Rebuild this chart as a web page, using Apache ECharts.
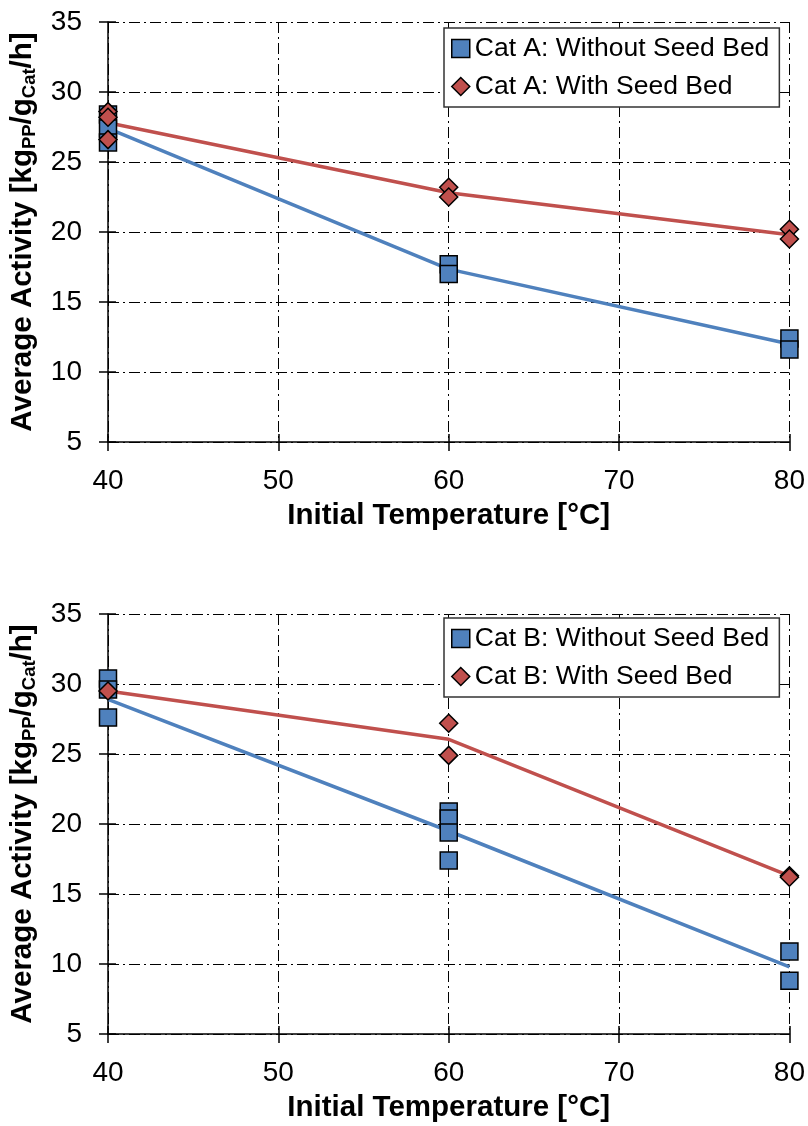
<!DOCTYPE html>
<html>
<head>
<meta charset="utf-8">
<script src="https://cdn.jsdelivr.net/npm/echarts@6/dist/echarts.min.js"></script>
<style>
html,body{margin:0;padding:0;background:#fff;}
#c{width:808px;height:1126px;}
</style>
</head>
<body>
<div id="c"></div>
<script>
// ---- data ----
const temps = [40, 60, 80];
const xTicks = [40, 50, 60, 70, 80];
const yTicks = [5, 10, 15, 20, 25, 30, 35];

const catA_without_pts = [[40,28.4],[40,27.4],[40,26.4],[60,17.7],[60,17.0],[80,12.4],[80,11.6]];
const catA_with_pts    = [[40,28.6],[40,28.2],[40,26.6],[60,23.2],[60,22.5],[80,20.2],[80,19.5]];
const catA_without_avg = [27.4, 17.35, 12.0];
const catA_with_avg    = [27.8, 22.8, 19.8];

const catB_without_pts = [[40,30.4],[40,29.6],[40,27.6],[60,20.9],[60,20.4],[60,19.4],[60,17.4],[80,10.9],[80,8.8]];
const catB_with_pts    = [[40,29.5],[60,27.2],[60,24.9],[80,16.3],[80,16.2]];
const catB_without_avg = [28.9, 19.5, 9.8];
const catB_with_avg    = [29.5, 26.05, 16.3];

const names = {
  aWo: 'Cat A: Without Seed Bed', aW: 'Cat A: With Seed Bed',
  bWo: 'Cat B: Without Seed Bed', bW: 'Cat B: With Seed Bed'
};

// ---- styles ----
const BLUE = '#4F81BD', RED = '#C0504D';
const FONT = '"Liberation Sans", Arial, sans-serif';
const dashDot = [11, 4, 2, 4];

function xAxes(gi) {
  return [{
    type: 'value', gridIndex: gi, min: 40, max: 80, interval: 10,
    name: 'Initial Temperature [°C]', nameLocation: 'middle', nameGap: 59,
    nameTextStyle: {fontFamily: FONT, fontSize: 29.5, fontWeight: 'bold', color: '#000'},
    axisLine: {show: true, onZero: false, lineStyle: {color: '#000', width: 1.5}},
    axisTick: {show: true, length: 9, lineStyle: {color: '#000', width: 1.5}},
    axisLabel: {fontFamily: FONT, fontSize: 28, color: '#000', margin: 25},
    splitLine: {show: true, lineStyle: {color: '#000', width: 1, type: dashDot}}
  }, {
    type: 'value', gridIndex: gi, min: 40, max: 80, interval: 10, position: 'bottom',
    axisLine: {show: false, onZero: false},
    axisTick: {show: true, inside: true, length: 8, lineStyle: {color: '#000', width: 1.5}},
    axisLabel: {show: false}, splitLine: {show: false}
  }];
}
function yAxes(gi) {
  return [{
    type: 'value', gridIndex: gi, min: 5, max: 35, interval: 5,
    name: 'Average Activity [kg{sub|PP}/g{sub|Cat}/h]', nameLocation: 'middle', nameGap: 69, nameRotate: 90,
    nameTextStyle: {fontFamily: FONT, fontSize: 29.5, fontWeight: 'bold', color: '#000',
      rich: {sub: {fontFamily: FONT, fontSize: 18.5, fontWeight: 'bold', color: '#000', verticalAlign: 'bottom', padding: [13,0,0,0]}}},
    axisLine: {show: true, onZero: false, lineStyle: {color: '#000', width: 1.5}},
    axisTick: {show: true, length: 9, lineStyle: {color: '#000', width: 1.5}},
    axisLabel: {fontFamily: FONT, fontSize: 28, color: '#000', margin: 26},
    splitLine: {show: true, lineStyle: {color: '#000', width: 1, type: dashDot}}
  }, {
    type: 'value', gridIndex: gi, min: 5, max: 35, interval: 5, position: 'left',
    axisLine: {show: false, onZero: false},
    axisTick: {show: true, inside: true, length: 8, lineStyle: {color: '#000', width: 1.5}},
    axisLabel: {show: false}, splitLine: {show: false}
  }];
}

function lineSeries(name, avg, color, xi, yi) {
  return {
    name: name + ' fit', type: 'line', xAxisIndex: xi, yAxisIndex: yi,
    data: temps.map((t, i) => [t, avg[i]]),
    showSymbol: false, symbol: 'none', z: 2, silent: true,
    lineStyle: {color: color, width: 3.5}
  };
}
function scatterSeries(name, pts, color, symbol, size, xi, yi) {
  return {
    name: name, type: 'scatter', xAxisIndex: xi, yAxisIndex: yi,
    data: pts, symbol: symbol, symbolSize: size, z: 5,
    itemStyle: {color: color, borderColor: '#000', borderWidth: 1.5, opacity: 1}
  };
}
function legend(top, data) {
  return {
    orient: 'vertical', left: 444, top: top,
    data: [{name: data[0], icon: 'rect'}, {name: data[1], icon: 'diamond'}],
    backgroundColor: '#fff', borderColor: '#333', borderWidth: 1.5,
    padding: [7, 10, 7, 7], itemGap: 11, itemWidth: 18, itemHeight: 18,
    textStyle: {fontFamily: FONT, fontSize: 26.5, color: '#000', padding: [0,0,0,0]},
    selectedMode: false,
    itemStyle: {borderColor: '#000', borderWidth: 1.5}
  };
}

const chart = echarts.init(document.getElementById('c'), null, {renderer: 'canvas'});
chart.setOption({
  animation: false,
  backgroundColor: '#fff',
  grid: [
    {left: 108, right: 18, top: 22, height: 420, containLabel: false},
    {left: 108, right: 18, top: 614, height: 420, containLabel: false}
  ],
  legend: [legend(28, [names.aWo, names.aW]), legend(618, [names.bWo, names.bW])],
  xAxis: [...xAxes(0), ...xAxes(1)],
  yAxis: [...yAxes(0), ...yAxes(1)],
  series: [
    lineSeries(names.aWo, catA_without_avg, BLUE, 0, 0),
    lineSeries(names.aW, catA_with_avg, RED, 0, 0),
    scatterSeries(names.aWo, catA_without_pts, BLUE, 'rect', 17, 0, 0),
    scatterSeries(names.aW, catA_with_pts, RED, 'diamond', 18, 0, 0),
    lineSeries(names.bWo, catB_without_avg, BLUE, 2, 2),
    lineSeries(names.bW, catB_with_avg, RED, 2, 2),
    scatterSeries(names.bWo, catB_without_pts, BLUE, 'rect', 17, 2, 2),
    scatterSeries(names.bW, catB_with_pts, RED, 'diamond', 18, 2, 2)
  ]
});
</script>
</body>
</html>
